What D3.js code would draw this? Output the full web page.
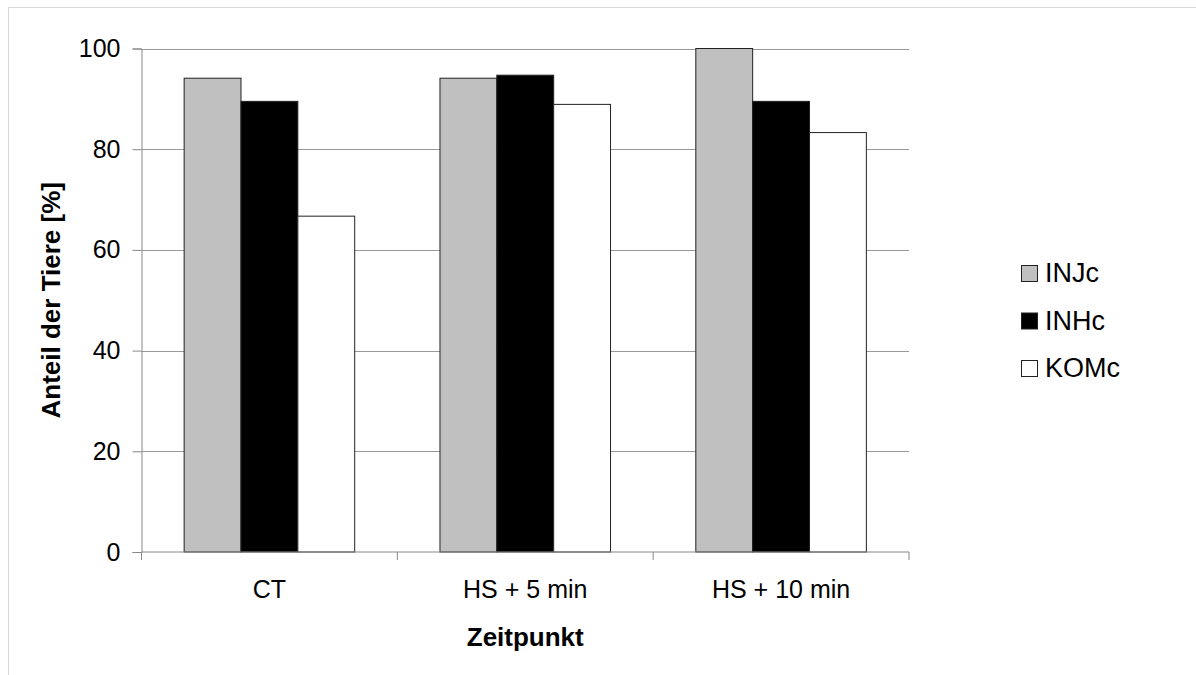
<!DOCTYPE html>
<html>
<head>
<meta charset="utf-8">
<script src="https://cdnjs.cloudflare.com/ajax/libs/d3/7.8.5/d3.min.js"></script>
<style>
body{margin:0;background:#fff;}
text{font-family:"Liberation Sans",Arial,sans-serif;fill:#000;}
</style>
</head>
<body>
<div id="chart"></div>
<script>
var categories=["CT","HS + 5 min","HS + 10 min"];
var seriesNames=["INJc","INHc","KOMc"];
var injc=[94.1,94.1,100];
var inhc=[89.5,94.7,89.5];
var komc=[66.7,88.9,83.3];
var yTicks=[0,20,40,60,80,100];
var colors=["#c0c0c0","#000000","#ffffff"];

var width=1196,height=675;
var plotLeft=141.5,plotRight=909,plotTop=48.5,plotBottom=552;

var svg=d3.select("#chart").append("svg")
  .attr("width",width)
  .attr("height",height);

// outer frame
svg.append("rect")
  .attr("x",8.5).attr("y",7.5)
  .attr("width",width).attr("height",height)
  .attr("fill","none").attr("stroke","#d9d9d9");

var x0=d3.scaleBand().domain(categories).range([plotLeft,plotRight]).paddingInner(0).paddingOuter(0);
var x1=d3.scaleBand().domain(seriesNames).range([0,x0.bandwidth()]).paddingInner(0).paddingOuter(0.75);
var y=d3.scaleLinear().domain([0,100]).range([plotBottom,plotTop]);

// gridlines
svg.append("g").selectAll("line")
  .data(yTicks.filter(function(d){return d>0;}))
  .enter().append("line")
  .attr("x1",plotLeft).attr("x2",plotRight)
  .attr("y1",function(d){return Math.round(y(d))+0.5;})
  .attr("y2",function(d){return Math.round(y(d))+0.5;})
  .attr("stroke","#999");

var rows=categories.map(function(c,i){
  return [injc[i],inhc[i],komc[i]];
});

var groups=svg.append("g").selectAll("g")
  .data(rows)
  .enter().append("g")
  .attr("transform",function(d,i){return "translate("+x0(categories[i])+",0)";});

groups.selectAll("rect")
  .data(function(d){return d;})
  .enter().append("rect")
  .attr("x",function(d,i){return x1(seriesNames[i]);})
  .attr("y",function(d){return y(d);})
  .attr("width",x1.bandwidth())
  .attr("height",function(d){return plotBottom-y(d);})
  .attr("fill",function(d,i){return colors[i];})
  .attr("stroke","#222")
  .attr("stroke-width",1);

// y axis
var yAxis=d3.axisLeft(y).tickValues(yTicks).tickSize(9).tickPadding(12);
var gy=svg.append("g").attr("transform","translate("+plotLeft+",0)").call(yAxis);
gy.select(".domain").attr("stroke","#888");
gy.selectAll(".tick line").attr("stroke","#888");
gy.selectAll("text").attr("font-size",25).attr("fill","#000").attr("font-family","Liberation Sans, Arial, sans-serif");

// x axis
var gx=svg.append("g").attr("transform","translate(0,"+plotBottom+")");
gx.append("line").attr("x1",plotLeft).attr("x2",plotRight).attr("stroke","#888");
gx.selectAll("line.tk")
  .data([plotLeft].concat(categories.map(function(c){return x0(c)+x0.bandwidth();})))
  .enter().append("line")
  .attr("class","tk")
  .attr("x1",function(d){return d;}).attr("x2",function(d){return d;})
  .attr("y1",0).attr("y2",8)
  .attr("stroke","#888");
gx.selectAll("text")
  .data(categories)
  .enter().append("text")
  .attr("x",function(d){return x0(d)+x0.bandwidth()/2;})
  .attr("y",46)
  .attr("text-anchor","middle")
  .attr("font-size",25)
  .text(function(d){return d;});

// axis titles
svg.append("text")
  .attr("transform","translate(60,"+((plotTop+plotBottom)/2)+") rotate(-90)")
  .attr("text-anchor","middle")
  .attr("font-size",26)
  .attr("font-weight","bold")
  .text("Anteil der Tiere [%]");

svg.append("text")
  .attr("x",(plotLeft+plotRight)/2)
  .attr("y",646)
  .attr("text-anchor","middle")
  .attr("font-size",26)
  .attr("font-weight","bold")
  .text("Zeitpunkt");

// legend
var legend=svg.append("g");
legend.selectAll("rect")
  .data(seriesNames)
  .enter().append("rect")
  .attr("x",1021.5)
  .attr("y",function(d,i){return 265.5+i*47.5;})
  .attr("width",16).attr("height",16)
  .attr("fill",function(d,i){return colors[i];})
  .attr("stroke","#222");
legend.selectAll("text")
  .data(seriesNames)
  .enter().append("text")
  .attr("x",1045)
  .attr("y",function(d,i){return 282+i*47.5;})
  .attr("font-size",27)
  .text(function(d){return d;});
</script>
</body>
</html>
